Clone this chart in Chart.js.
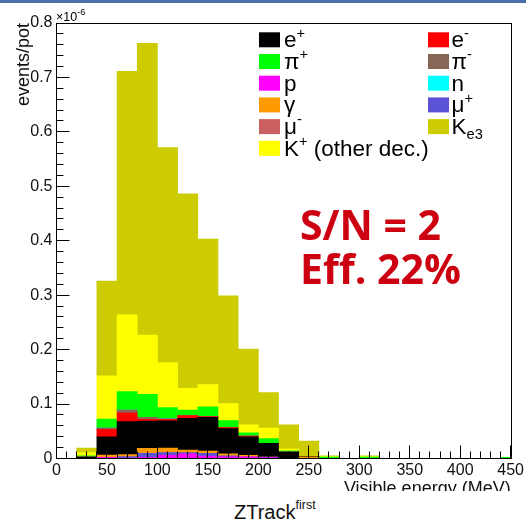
<!DOCTYPE html>
<html><head><meta charset="utf-8">
<script src="https://cdn.jsdelivr.net/npm/chart.js@4.4.1/dist/chart.umd.min.js"></script>
<style>
html,body{margin:0;padding:0;background:#fff;}
#band{position:absolute;left:0;top:0;width:526px;height:3px;background:#4b6fa6;z-index:2}
#wrap{position:absolute;left:0;top:0;width:526px;height:491px;overflow:hidden}
#cap{position:absolute;left:234px;top:502px;font-family:"Liberation Sans",Arial,sans-serif;font-size:20px;line-height:20px;color:#111;white-space:nowrap}
#cap span{font-size:12.5px;position:relative;top:-10px}
</style></head><body>
<div id="band"></div>
<div id="wrap"><canvas id="c" width="526" height="500"></canvas></div>
<div id="cap">ZTrack<span>first</span></div>
<script>
// Bin centres (MeV), 20 MeV bins from 0 to 460
const binCenters = [10,30,50,70,90,110,130,150,170,190,210,230,250,270,290,310,330,350,370,390,410,430,450];
// Values in units of 1e-6 events/pot
const proton   = [0,0,0.002,0.001,0.002,0.006,0.0085,0.0046,0.003,0.003,0.0015,0,0,0,0,0,0,0,0,0,0,0,0];
const muPlus   = [0,0,0,0.0023,0.0074,0.0047,0.0022,0.005,0.002,0,0.001,0,0,0,0,0,0,0,0,0,0,0,0];
const gamma    = [0,0,0.0044,0.0037,0.0091,0.0085,0.0049,0.0042,0.0035,0.003,0,0,0.003,0,0,0,0,0,0,0,0,0,0];
const ePlus    = [0,0.0028,0.0336,0.0606,0.0503,0.0498,0.0584,0.0619,0.0463,0.034,0.0255,0.012,0.001,0,0,0,0,0,0,0,0,0,0];
const eMinus   = [0,0,0.0137,0.0164,0.003,0.003,0.0047,0.0011,0.0018,0.001,0,0,0,0,0,0,0,0,0,0,0,0,0];
const piMinus  = [0,0,0.002,0.005,0.004,0.001,0,0,0,0,0,0,0,0,0,0,0,0,0,0,0,0,0];
const neutron  = [0,0,0,0,0,0,0,0,0,0,0,0,0,0,0,0,0,0,0,0,0,0,0];
const muMinus  = [0,0,0,0,0,0,0,0,0,0,0,0,0,0,0,0,0,0,0,0,0,0,0];
const piPlus   = [0,0.0022,0.0169,0.034,0.042,0.0204,0.0103,0.0182,0.0129,0.006,0.0084,0.0023,0,0.0025,0,0.0025,0,0,0,0,0,0,0.002];
const kOther   = [0,0.006,0.0794,0.141,0.109,0.0826,0.040,0.041,0.0315,0.015,0.0196,0.0032,0,0.001,0,0.001,0,0,0,0,0,0,0];
const ke3      = [0,0.008,0.174,0.447,0.536,0.395,0.357,0.267,0.198,0.139,0.065,0.0445,0.028,0.0015,0,0.0015,0,0,0,0,0,0,0];

// stack order bottom -> top
const seriesData   = [proton, muPlus, gamma, ePlus, eMinus, piMinus, neutron, muMinus, piPlus, kOther, ke3];
const seriesNames  = ['p','μ^{+}','γ','e^{+}','e^{-}','π^{-}','n','μ^{-}','π^{+}','K^{+} (other dec.)','K_{e3}'];
const seriesColors = ['#ff00ff','#5b52d6','#ff9a00','#000000','#ff0000','#886655','#00ffff','#cc6060','#00ff00','#ffff00','#cccc00'];
// legend (2 columns, row-major) refers to indices above
const legendOrder  = [3,4,8,5,0,6,2,1,7,10,9];

const xTickLabelsStep = 50, xMinorStep = 10;
const yTickStep = 0.1, yMinorStep = 0.02;
const annotationLines = ['S/N = 2', 'Eff. 22%'];
const yExponent = '×10^{-6}';

const FONT = '"Liberation Sans", Arial, sans-serif';
Chart.defaults.font.family = FONT;

function drawRich(ctx, str, x, y, size, supScale) {
  const re = /(\^|_)\{([^}]*)\}|([^\^_]+)/g;
  let m, cx = x;
  const sc = supScale || 0.65;
  while ((m = re.exec(str))) {
    if (m[3] !== undefined) {
      ctx.font = size + 'px ' + FONT;
      ctx.fillText(m[3], cx, y);
      cx += ctx.measureText(m[3]).width;
    } else {
      const s = size * sc;
      ctx.font = s + 'px ' + FONT;
      const dy = m[1] === '^' ? -size * 0.42 : size * 0.24;
      ctx.fillText(m[2], cx, y + dy);
      cx += ctx.measureText(m[2]).width;
    }
  }
}

const rootPlugin = {
  id: 'rootStyle',
  afterDatasetsDraw(chart) {
    const {ctx, chartArea: a, scales: {x, y}} = chart;
    ctx.save();
    ctx.strokeStyle = '#000';
    ctx.lineWidth = 1;
    ctx.beginPath();
    // x ticks (inward)
    const nx = Math.round((x.max - x.min) / xMinorStep);
    for (let i = 0; i <= nx; i++) {
      const v = x.min + i * xMinorStep;
      const px = Math.floor(x.getPixelForValue(v)) + 0.5;
      const len = (Math.round(v) % xTickLabelsStep === 0) ? 13 : 7;
      ctx.moveTo(px, a.bottom);
      ctx.lineTo(px, a.bottom - len);
    }
    // y ticks (inward)
    const ny = Math.round((y.max - y.min) / yMinorStep);
    const per = Math.round(yTickStep / yMinorStep);
    for (let i = 0; i <= ny; i++) {
      const v = y.min + i * yMinorStep;
      const py = Math.floor(y.getPixelForValue(v)) + 0.5;
      const len = (i % per === 0) ? 13 : 7;
      ctx.moveTo(a.left, py);
      ctx.lineTo(a.left + len, py);
    }
    ctx.stroke();
    // frame
    const L = Math.floor(a.left) + 0.5, R = Math.round(a.right) + 0.5;
    const T = Math.floor(a.top) + 0.5, B = Math.floor(a.bottom) + 0.5;
    ctx.strokeRect(L, T, R - L, B - T);

    // legend
    ctx.fillStyle = '#000';
    ctx.textBaseline = 'alphabetic';
    ctx.textAlign = 'left';
    const colX = [259, 428];
    legendOrder.forEach((di, k) => {
      const col = k % 2, row = Math.floor(k / 2);
      const bx = colX[col], by = 32.3 + row * 21.7;
      ctx.fillStyle = seriesColors[di];
      ctx.fillRect(bx, by, 21, 15);
      ctx.fillStyle = '#000';
      drawRich(ctx, seriesNames[di], bx + (col === 0 ? 25 : 23.5), by + 14.8, 22.5);
    });

    // exponent
    ctx.fillStyle = '#000';
    drawRich(ctx, yExponent, 56, 20.5, 12.5, 0.72);

    // annotation
    ctx.fillStyle = '#cc0010';
    ctx.font = 'bold 41px "Open Sans", sans-serif';
    ctx.fillText(annotationLines[0], 300, 240);
    ctx.fillText(annotationLines[1], 300, 284);
    ctx.restore();
  }
};

new Chart(document.getElementById('c'), {
  type: 'bar',
  data: {
    labels: binCenters,
    datasets: seriesData.map((d, i) => ({
      label: seriesNames[i],
      data: d,
      backgroundColor: seriesColors[i],
      borderWidth: 0,
      barPercentage: 1,
      categoryPercentage: 1
    }))
  },
  options: {
    responsive: false,
    animation: false,
    devicePixelRatio: 1,
    layout: { padding: { left: 0, top: 23, right: 15, bottom: 0 } },
    plugins: { legend: { display: false }, tooltip: { enabled: false } },
    scales: {
      x: {
        type: 'linear', min: 0, max: 450, stacked: true, offset: false,
        grid: { display: false, drawTicks: false },
        border: { display: false },
        ticks: { stepSize: xTickLabelsStep, padding: 2, color: '#111', font: { size: 16 }, maxRotation: 0, autoSkip: false },
        title: { display: true, text: 'Visible energy (MeV)', align: 'end', color: '#111', font: { size: 18 }, padding: { top: 0, bottom: 0 } },
        afterFit(s) { s.height = 41.5; }
      },
      y: {
        min: 0, max: 0.8, stacked: true,
        grid: { display: false, drawTicks: false },
        border: { display: false },
        ticks: { stepSize: yTickStep, padding: 4, color: '#111', font: { size: 16 } },
        title: { display: true, text: 'events/pot', align: 'end', color: '#111', font: { size: 18 }, padding: { top: 13, bottom: 0 } },
        afterFit(s) { s.width = 56.5; }
      }
    }
  },
  plugins: [rootPlugin]
});
</script>
</body></html>
